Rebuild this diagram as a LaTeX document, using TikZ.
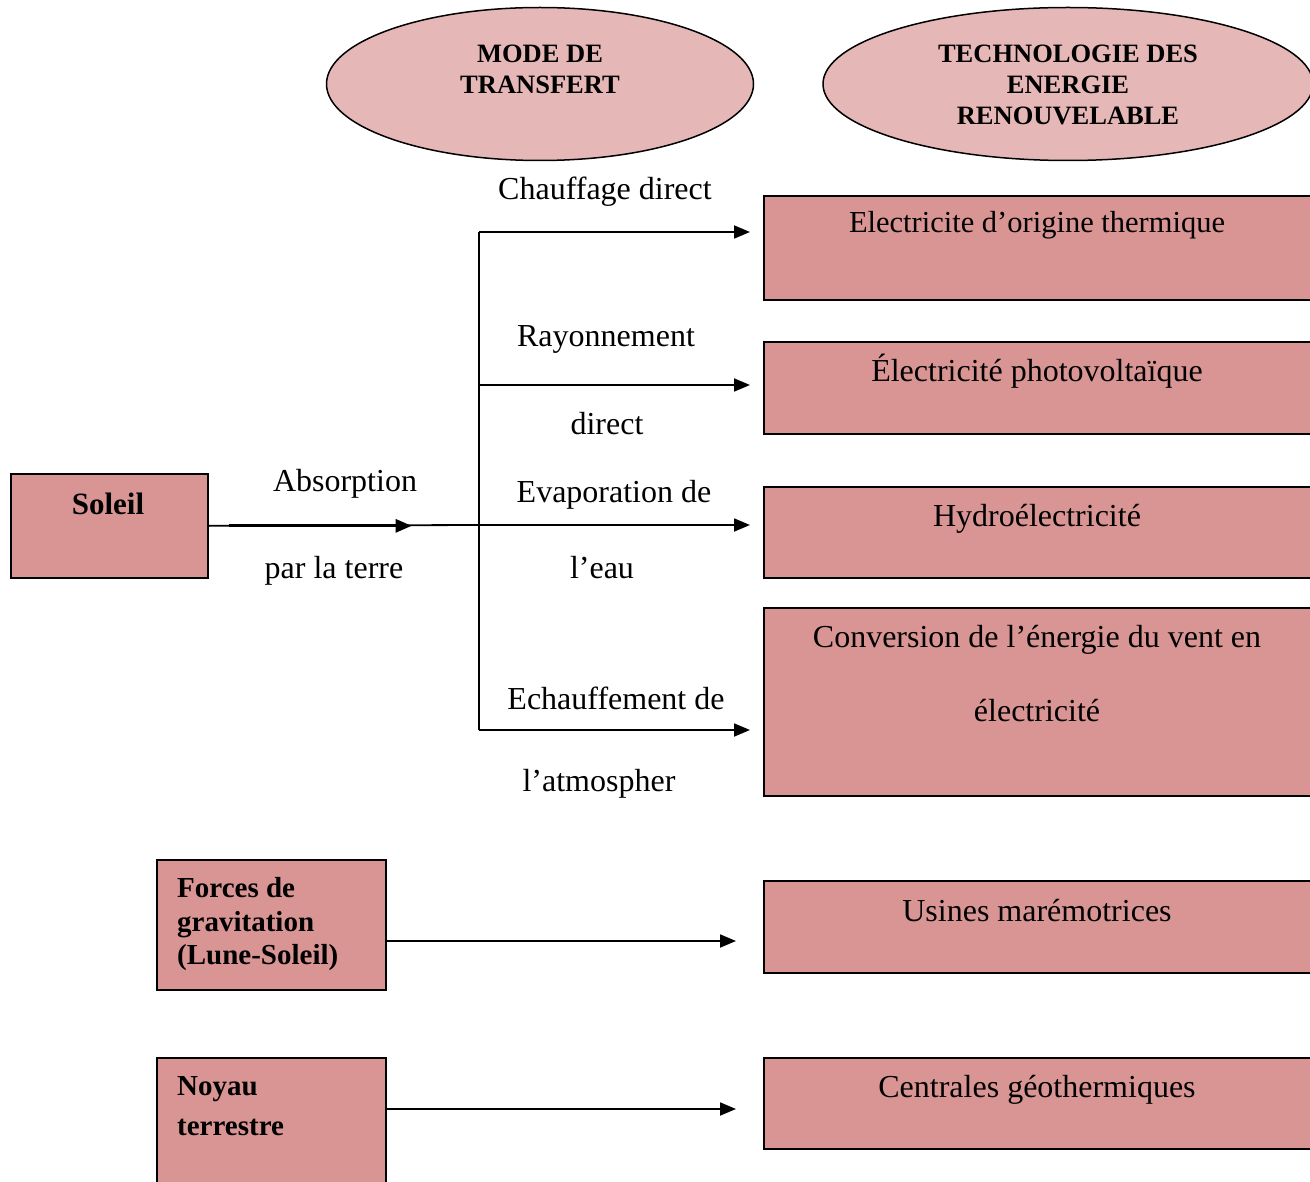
\documentclass[tikz,border=0pt]{standalone}
\usepackage{fontspec}
\setmainfont{Liberation Serif}
\usetikzlibrary{arrows.meta,shapes.geometric}
\definecolor{boxfill}{HTML}{D99594}
\definecolor{ellfill}{HTML}{E5B8B7}
\begin{document}
\begin{tikzpicture}[x=1pt,y=-1pt,
  box/.style={draw=black, line width=1.7pt, fill=boxfill, inner sep=0pt, anchor=north west},
  ell/.style={ellipse, draw=black, line width=1.5pt, fill=ellfill, inner sep=0pt},
  txt/.style={font=\fontsize{32}{38}\selectfont, inner sep=0pt, anchor=base},
  htxt/.style={font=\fontsize{26.5}{31}\selectfont\bfseries, inner sep=0pt, anchor=base},
  bbtxt/.style={font=\fontsize{29}{34}\selectfont\bfseries, inner sep=0pt, anchor=base west},
  conn/.style={line width=1.8pt, -{Triangle[length=16pt,width=13pt]}},
  ln/.style={line width=1.8pt}]
\path[use as bounding box, clip] (0,0) rectangle (1310,1182);
\fill[white] (0,0) rectangle (1310,1182);

% header ellipses
\node[ell, minimum width=427pt, minimum height=153pt] (e1) at (540,84) {};
\node[ell, minimum width=490pt, minimum height=153pt] (e2) at (1068,84) {};
\node[htxt] (e1a) at (540,63) {MODE DE};
\node[htxt] (e1b) at (540,94) {TRANSFERT};
\node[htxt] (e2a) at (1068,63) {TECHNOLOGIE DES};
\node[htxt] (e2b) at (1068,94) {ENERGIE};
\node[htxt] (e2c) at (1068,125) {RENOUVELABLE};

% technology boxes
\node[box, minimum width=548pt, minimum height=104pt] (b1) at (763,195) {};
\node[box, minimum width=548pt, minimum height=92pt] (b2) at (763,341) {};
\node[box, minimum width=548pt, minimum height=91pt] (b3) at (763,486) {};
\node[box, minimum width=548pt, minimum height=188pt] (b4) at (763,607) {};
\node[box, minimum width=548pt, minimum height=92pt] (b5) at (763,880) {};
\node[box, minimum width=548pt, minimum height=91pt] (b6) at (763,1057) {};
\node[txt, font=\fontsize{30.5}{36}\selectfont] (b1t) at (1037,233) {Electricite d’origine thermique};
\node[txt] (b2t) at (1037,382) {Électricité photovoltaïque};
\node[txt] (b3t) at (1037,526) {Hydroélectricité};
\node[txt] (b4t) at (1037,647) {Conversion de l’énergie du vent en};
\node[txt] (b4u) at (1037,721) {électricité};
\node[txt] (b5t) at (1037,921) {Usines marémotrices};
\node[txt] (b6t) at (1037,1097) {Centrales géothermiques};

% source boxes
\node[box, minimum width=197pt, minimum height=104pt] (sol) at (10,473) {};
\node[font=\fontsize{31}{36}\selectfont\bfseries, inner sep=0pt, anchor=base] (solt) at (108,514) {Soleil};
\node[box, minimum width=229pt, minimum height=130pt] (grav) at (156,859) {};
\node[bbtxt] (gravt1) at (177,897) {Forces de};
\node[bbtxt] (gravt2) at (177,931) {gravitation};
\node[bbtxt] (gravt3) at (177,964) {(Lune-Soleil)};
\node[box, minimum width=229pt, minimum height=145pt] (noy) at (156,1057) {};
\node[bbtxt] (noyt1) at (177,1095) {Noyau};
\node[bbtxt] (noyt2) at (177,1135) {terrestre};

% junction
\coordinate (j1) at (479,232);
\coordinate (j2) at (479,385);
\coordinate (j3) at (479,525);
\coordinate (j4) at (479,730);
\coordinate (a5) at (736,941);
\coordinate (a6) at (736,1109);

\draw[ln] (sol.east) -- (j3);
\draw[line width=2.8pt, -{Triangle[length=16pt,width=13pt]}] ([xshift=20pt]sol.east) -- ([xshift=203pt]sol.east);
\draw[ln] (j1) -- (j4);
\draw[conn, shorten >=13pt] (j1) -- (j1 -| b1.west);
\draw[conn, shorten >=13pt] (j2) -- (j2 -| b2.west);
\draw[conn, shorten >=13pt] (j3) -- (j3 -| b3.west);
\draw[conn, shorten >=13pt] (j4) -- (j4 -| b4.west);
\draw[conn] (grav.east |- a5) -- (a5);
\draw[conn] (noy.east |- a6) -- (a6);

% transfer labels
\node[txt] (l1) at (345,491) {Absorption};
\node[txt] (l2) at (334,578) {par la terre};
\node[txt] (l3) at (605,200) {Chauffage direct};
\node[txt] (l4) at (606,347) {Rayonnement};
\node[txt] (l5) at (607,435) {direct};
\node[txt] (l6) at (614,502) {Evaporation de};
\node[txt] (l7) at (602,578) {l’eau};
\node[txt] (l8) at (616,709) {Echauffement de};
\node[txt] (l9) at (599,791) {l’atmospher};
\end{tikzpicture}
\end{document}
